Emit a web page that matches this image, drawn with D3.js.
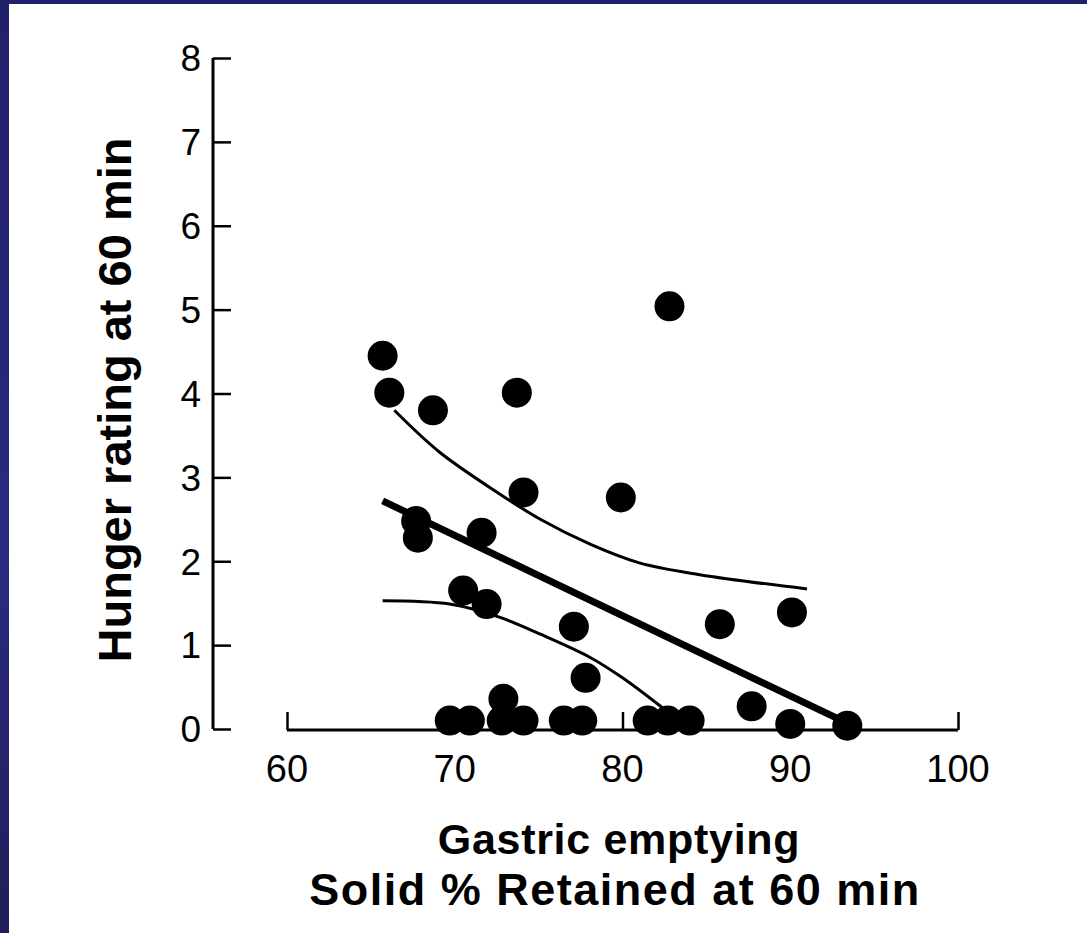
<!DOCTYPE html>
<html>
<head>
<meta charset="utf-8">
<script src="https://cdn.jsdelivr.net/npm/d3@7/dist/d3.min.js"></script>
<style>
  html, body { margin: 0; padding: 0; background: #fff; }
  svg { display: block; }
  text { font-family: "Liberation Sans", Arial, Helvetica, sans-serif; fill: #000; }
</style>
</head>
<body>
<script>
// ---- data ----
const xTicks = [60, 70, 80, 90, 100];
const yTicks = [0, 1, 2, 3, 4, 5, 6, 7, 8];
const xTitleLines = ["Gastric emptying", "Solid % Retained at 60 min"];
const yTitle = "Hunger rating at 60 min";

// subjects: solid % retained at 60 min (x), hunger rating (y)
const retained = [65.7, 66.1, 68.7, 73.7, 82.8, 74.1, 79.9, 67.7, 67.8, 71.6,
                  70.5, 71.9, 77.1, 77.8, 85.8, 90.1, 87.7, 90.0, 93.4, 72.9,
                  69.7, 70.9, 72.8, 74.1, 76.5, 77.6, 81.5, 82.7, 84.0];
const hunger   = [4.45, 4.01, 3.80, 4.01, 5.04, 2.82, 2.76, 2.48, 2.28, 2.34,
                  1.65, 1.49, 1.22, 0.61, 1.25, 1.39, 0.27, 0.06, 0.04, 0.36,
                  0.10, 0.10, 0.10, 0.10, 0.10, 0.10, 0.10, 0.10, 0.10];

// regression line endpoints
const fitX = [65.7, 93.4];
const fitY = [2.72, 0.07];

// upper confidence band
const upperX = [66.4, 69.1, 72.7, 75.1, 78.1, 81.0, 84.6, 91.0];
const upperY = [3.80, 3.30, 2.80, 2.50, 2.20, 1.98, 1.84, 1.67];

// lower confidence band
const lowerX = [65.7, 69.7, 72.7, 75.1, 78.1, 80.0, 82.4];
const lowerY = [1.53, 1.49, 1.33, 1.13, 0.85, 0.61, 0.25];

// ---- drawing ----
const W = 1087, H = 933;
const svg = d3.select("body").append("svg").attr("width", W).attr("height", H);

const defs = svg.append("defs");
const grad = defs.append("linearGradient").attr("id", "bord").attr("x1", 0).attr("y1", 0).attr("x2", 0).attr("y2", 1);
grad.append("stop").attr("offset", "0%").attr("stop-color", "#20206a");
grad.append("stop").attr("offset", "60%").attr("stop-color", "#2a2a82");
grad.append("stop").attr("offset", "100%").attr("stop-color", "#1f1f58");

svg.append("rect").attr("x", 0).attr("y", 0).attr("width", W).attr("height", H).attr("fill", "#fff");
svg.append("rect").attr("x", 0).attr("y", 0).attr("width", W).attr("height", 4).attr("fill", "#20206a");
svg.append("rect").attr("x", 0).attr("y", 0).attr("width", 9).attr("height", H).attr("fill", "url(#bord)");

const x = d3.scaleLinear().domain([60, 100]).range([287, 958]);
const y = d3.scaleLinear().domain([0, 8]).range([729, 58]);

// y axis (ticks pointing inward)
const yAxis = d3.axisRight(y).tickValues(yTicks).tickSize(18).tickFormat("");
const yg = svg.append("g").attr("transform", "translate(213,0)").call(yAxis);
yg.select(".domain").attr("stroke", "#000").attr("stroke-width", 3).attr("d", `M0,${y(8)}V${y(0)}`);
yg.selectAll(".tick line").attr("stroke", "#000").attr("stroke-width", 2.5);

svg.append("g").selectAll("text").data(yTicks).join("text")
  .attr("x", 201).attr("y", d => y(d)).attr("dy", "0.36em")
  .attr("text-anchor", "end").attr("font-size", 37).text(d => d);

// x axis (ticks pointing up)
const xAxis = d3.axisTop(x).tickValues(xTicks).tickSize(18).tickFormat("");
const xg = svg.append("g").attr("transform", "translate(0,730)").call(xAxis);
xg.select(".domain").attr("stroke", "#000").attr("stroke-width", 3).attr("d", `M${x(60)},0H${x(100)}`);
xg.selectAll(".tick line").attr("stroke", "#000").attr("stroke-width", 2.5);

svg.append("g").selectAll("text").data(xTicks).join("text")
  .attr("x", d => x(d)).attr("y", 782)
  .attr("text-anchor", "middle").attr("font-size", 38).text(d => d);

// titles
svg.append("text").attr("transform", `translate(131,400) rotate(-90)`)
  .attr("text-anchor", "middle").attr("font-size", 47).attr("font-weight", "bold").text(yTitle);
svg.append("g").selectAll("text").data(xTitleLines).join("text")
  .attr("x", (d, i) => i === 0 ? 619 : 615).attr("y", (d, i) => i === 0 ? 854 : 905)
  .attr("text-anchor", "middle").attr("font-size", (d, i) => i === 0 ? 43 : 45)
  .attr("letter-spacing", (d, i) => i === 0 ? "0.7px" : "1.5px")
  .attr("font-weight", "bold").text(d => d);

// lines
const line = d3.line().x(d => x(d[0])).y(d => y(d[1]));
const curve = d3.line().x(d => x(d[0])).y(d => y(d[1])).curve(d3.curveCatmullRom);

svg.append("path").datum(upperX.map((v, i) => [v, upperY[i]]))
  .attr("d", curve).attr("fill", "none").attr("stroke", "#000").attr("stroke-width", 3);
svg.append("path").datum(lowerX.map((v, i) => [v, lowerY[i]]))
  .attr("d", curve).attr("fill", "none").attr("stroke", "#000").attr("stroke-width", 3);
svg.append("path").datum(fitX.map((v, i) => [v, fitY[i]]))
  .attr("d", line).attr("fill", "none").attr("stroke", "#000").attr("stroke-width", 7);

// points
svg.append("g").selectAll("circle").data(retained.map((v, i) => [v, hunger[i]])).join("circle")
  .attr("cx", d => x(d[0])).attr("cy", d => y(d[1])).attr("r", 15).attr("fill", "#000");
</script>
</body>
</html>
